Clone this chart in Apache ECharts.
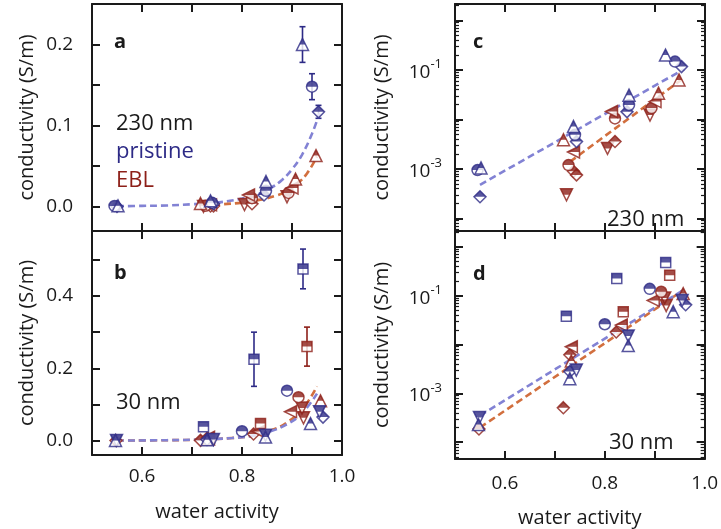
<!DOCTYPE html>
<html><head><meta charset="utf-8">
<script src="https://cdn.jsdelivr.net/npm/echarts@6/dist/echarts.min.js"></script>
<style>html,body{margin:0;padding:0;background:#fff}#c{width:721px;height:529px}</style>
</head><body><div id="c"></div>
<script>
// ---------------- tick labels ----------------
const xTickLabels = ['0.6', '0.8', '1.0'];
const yTickLabelsA = ['0.0', '0.1', '0.2'];
const yTickLabelsB = ['0.0', '0.2', '0.4'];
const logTickExps = [-1, -3];

// ---------------- 230 nm (panels a, c) ----------------
const t230PristineTri  = [[0.921, 0.200], [0.848, 0.031], [0.737, 0.0072], [0.552, 0.00105]];
const t230PristineCirc = [[0.940, 0.148], [0.848, 0.0196], [0.740, 0.0049], [0.545, 0.00095]];
const t230PristineDiam = [[0.953, 0.117], [0.844, 0.0144], [0.743, 0.0036], [0.550, 0.000275]];
const t230PristineErr  = [[0.921, 0.200, 0.022], [0.940, 0.148, 0.016], [0.953, 0.117, 0.008]];
const t230EblTri  = [[0.948, 0.063], [0.907, 0.034], [0.717, 0.0039]];
const t230EblLeft = [[0.900, 0.023], [0.813, 0.0145], [0.737, 0.0022]];
const t230EblCirc = [[0.893, 0.017], [0.820, 0.0105], [0.727, 0.0012]];
const t230EblDiam = [[0.820, 0.0036], [0.737, 0.0009], [0.743, 0.00076]];
const t230EblDown = [[0.890, 0.0123], [0.805, 0.0026], [0.723, 0.0003]];
const fit230PristineLin = [[0.55, 0.0005], [0.60, 0.001], [0.65, 0.0015], [0.70, 0.003], [0.75, 0.005], [0.80, 0.010], [0.83, 0.015], [0.86, 0.024], [0.88, 0.033], [0.90, 0.046], [0.92, 0.064], [0.94, 0.090], [0.955, 0.115]];
const fit230EblLin = [[0.72, 0.0015], [0.76, 0.003], [0.80, 0.005], [0.84, 0.009], [0.87, 0.014], [0.89, 0.019], [0.91, 0.028], [0.93, 0.041], [0.95, 0.062]];
const fit230PristineLog = [[0.55, 0.00048], [0.958, 0.104]];
const fit230EblLog = [[0.73, 0.0014], [0.955, 0.066]];

// ---------------- 30 nm (panels b, d) ----------------
const t30PristineSq   = [[0.922, 0.475], [0.824, 0.225], [0.723, 0.038]];
const t30PristineCirc = [[0.890, 0.138], [0.800, 0.026]];
const t30PristineTri  = [[0.937, 0.047], [0.847, 0.0095], [0.730, 0.0020], [0.547, 0.00023]];
const t30PristineDown = [[0.955, 0.080], [0.847, 0.015], [0.743, 0.0030], [0.549, 0.00032]];
const t30PristineDiam = [[0.962, 0.065], [0.730, 0.0028]];
const t30PristineErr  = [[0.922, 0.475, 0.055], [0.824, 0.225, 0.075]];
const t30EblSq   = [[0.930, 0.260], [0.837, 0.047]];
const t30EblCirc = [[0.913, 0.120]];
const t30EblLeft = [[0.897, 0.080], [0.833, 0.025], [0.733, 0.0090]];
const t30EblTri  = [[0.957, 0.110], [0.733, 0.0046]];
const t30EblDown = [[0.923, 0.063], [0.920, 0.090]];
const t30EblDiam = [[0.823, 0.018], [0.730, 0.0062], [0.717, 0.00051], [0.548, 0.000187]];
const t30EblErr  = [[0.930, 0.260, 0.054]];
const fit30PristineLin = [[0.55, 0.000], [0.65, 0.001], [0.72, 0.003], [0.78, 0.007], [0.82, 0.013], [0.86, 0.027], [0.89, 0.045], [0.92, 0.075], [0.95, 0.130]];
const fit30EblLin = [[0.55, 0.000], [0.65, 0.001], [0.72, 0.0025], [0.78, 0.007], [0.82, 0.013], [0.86, 0.029], [0.89, 0.050], [0.92, 0.085], [0.95, 0.150]];
const fit30PristineLog = [[0.55, 0.00035], [0.96, 0.135]];
const fit30EblLog = [[0.55, 0.00020], [0.955, 0.125]];

// ---------------- styling ----------------
const FONT = 'Open Sans';
const INK = '#1a1a1a';
const C_P = '#2d2a86', C_E = '#8d1f18', C_FP = '#8282d4', C_FE = '#d26f3e';
const SHAPES = {
  tri:  {full: 'M5 0 L10 10 L0 10 Z', half: 'M5 0 L7.5 5 L2.5 5 Z M0 10 L10 10'},
  down: {full: 'M0 0 L10 0 L5 10 Z', half: 'M0 0 L10 0 L7.5 5 L2.5 5 Z M0 10 L10 10'},
  diam: {full: 'M5 0 L10 5 L5 10 L0 5 Z', half: 'M5 0 L10 5 L0 5 Z M0 10 L10 10'},
  sq:   {full: 'M0 0 L10 0 L10 10 L0 10 Z', half: 'M0 0 L10 0 L10 5 L0 5 Z M0 10 L10 10'},
  left: {full: 'M0 5 L10 0 L10 10 Z', half: 'M0 5 L10 0 L10 5 Z M0 10 L10 10'},
  circ: {full: 'M0 5 A5 5 0 1 1 10 5 A5 5 0 1 1 0 5 Z', half: 'M0 5 A5 5 0 0 1 10 5 Z M0 10 L10 10'}
};

function markers(data, shape, color, g) {
  const size = shape === 'sq' ? 10 : (shape === 'circ' ? 11 : 12);
  return [
    {type: 'scatter', xAxisIndex: 2 * g, yAxisIndex: 2 * g, data, symbol: 'path://' + SHAPES[shape].full,
     symbolSize: size, itemStyle: {color: '#fff', borderColor: color, borderWidth: 1.5}, z: 3, silent: true},
    {type: 'scatter', xAxisIndex: 2 * g, yAxisIndex: 2 * g, data, symbol: 'path://' + SHAPES[shape].half,
     symbolSize: size, itemStyle: {color: color}, z: 3, silent: true}
  ];
}
function fitLine(data, color, g, smooth) {
  return {type: 'line', xAxisIndex: 2 * g, yAxisIndex: 2 * g, data, showSymbol: false, smooth: smooth ? 0.4 : false,
    lineStyle: {color, width: 2.6, type: [7, 4]}, z: 2, silent: true};
}
function errBars(data, color, g) {
  return {type: 'custom', xAxisIndex: 2 * g, yAxisIndex: 2 * g, data, encode: {x: 0, y: 1}, z: 2, silent: true,
    renderItem(params, api) {
      const x = api.value(0), y = api.value(1), e = api.value(2);
      const t = api.coord([x, y + e]), b = api.coord([x, y - e]);
      const st = {stroke: color, lineWidth: 1.6};
      return {type: 'group', children: [
        {type: 'line', shape: {x1: t[0], y1: t[1], x2: b[0], y2: b[1]}, style: st},
        {type: 'line', shape: {x1: t[0] - 3, y1: t[1], x2: t[0] + 3, y2: t[1]}, style: st},
        {type: 'line', shape: {x1: b[0] - 3, y1: b[1], x2: b[0] + 3, y2: b[1]}, style: st}
      ]};
    }};
}

function pickLabel(list, v) {
  const hit = list.find(l => Math.abs(parseFloat(l) - v) < 1e-7);
  return hit === undefined ? '' : hit;
}
const lineSt = {show: true, onZero: false, lineStyle: {color: INK, width: 2}};
const tickSt = {show: true, inside: true, length: 8, lineStyle: {color: INK, width: 2}};

function xPair(g, showLabels, margin, gap) {
  const base = {gridIndex: g, type: 'value', min: 0.5, max: 1.0, interval: 0.1,
    axisLine: lineSt, axisTick: tickSt, splitLine: {show: false}};
  return [
    Object.assign({}, base, {position: 'bottom',
      axisLabel: {show: showLabels, formatter: v => pickLabel(xTickLabels, v), fontSize: 19, color: INK, fontFamily: FONT, margin: margin},
      name: showLabels ? 'water activity' : '', nameLocation: 'middle', nameGap: gap,
      nameTextStyle: {fontSize: 20, color: INK, fontFamily: FONT}}),
    Object.assign({}, base, {position: 'top', axisLabel: {show: false}})
  ];
}
function yLinPair(g, min, max, split, labels) {
  const base = {gridIndex: g, type: 'value', min, max, splitNumber: split,
    axisLine: lineSt, axisTick: tickSt, splitLine: {show: false}};
  return [
    Object.assign({}, base, {position: 'left',
      axisLabel: {formatter: v => pickLabel(labels, v), fontSize: 19, color: INK, fontFamily: FONT, margin: 19},
      name: 'conductivity (S/m)', nameLocation: 'middle', nameGap: 55,
      nameTextStyle: {fontSize: 20, color: INK, fontFamily: FONT}}),
    Object.assign({}, base, {position: 'right', axisLabel: {show: false}})
  ];
}
function logLabel(v) {
  const e = Math.log10(v), r = Math.round(e);
  if (Math.abs(e - r) < 1e-6 && logTickExps.indexOf(r) >= 0) return '{b|10}{s|' + r + '}';
  return '';
}
function yLogPair(g, lo, hi) {
  const base = {gridIndex: g, type: 'log', logBase: 10, min: Math.pow(10, lo), max: Math.pow(10, hi),
    axisLine: lineSt, axisTick: tickSt, splitLine: {show: false},
    minorTick: {show: true, splitNumber: 9, length: 4, lineStyle: {color: INK, width: 1.2}}, minorSplitLine: {show: false}};
  return [
    Object.assign({}, base, {position: 'left',
      axisLabel: {formatter: logLabel, margin: 13, color: INK,
        rich: {b: {fontSize: 19, fontFamily: FONT, color: INK, lineHeight: 24, verticalAlign: 'bottom'},
               s: {fontSize: 13, fontFamily: FONT, color: INK, lineHeight: 13, verticalAlign: 'top'}}},
      name: 'conductivity (S/m)', nameLocation: 'middle', nameGap: 63,
      nameTextStyle: {fontSize: 20, color: INK, fontFamily: FONT}}),
    Object.assign({}, base, {position: 'right', axisLabel: {show: false}})
  ];
}

const grids = [
  {left: 92, top: 4, width: 250, height: 227},
  {left: 92, top: 231, width: 250, height: 224},
  {left: 455, top: 4, width: 250, height: 227},
  {left: 455, top: 231, width: 250, height: 231}
];
const xAxes = [].concat(xPair(0, false, 12, 47), xPair(1, true, 12, 47), xPair(2, false, 15, 49), xPair(3, true, 15, 49));
const yAxes = [].concat(
  yLinPair(0, -0.03, 0.25, 5, yTickLabelsA),
  yLinPair(1, -0.04, 0.58, 6, yTickLabelsB),
  yLogPair(2, -4.253, 0.333),
  yLogPair(3, -4.343, 0.323)
);

const series = [];
function panel230(g, log) {
  series.push(log ? fitLine(fit230PristineLog, C_FP, g, false) : fitLine(fit230PristineLin, C_FP, g, true));
  series.push(log ? fitLine(fit230EblLog, C_FE, g, false) : fitLine(fit230EblLin, C_FE, g, true));
  if (!log) series.push(errBars(t230PristineErr, C_P, g));
  series.push(...markers(t230EblDown, 'down', C_E, g), ...markers(t230EblDiam, 'diam', C_E, g),
    ...markers(t230EblCirc, 'circ', C_E, g), ...markers(t230EblLeft, 'left', C_E, g), ...markers(t230EblTri, 'tri', C_E, g));
  series.push(...markers(t230PristineDiam, 'diam', C_P, g), ...markers(t230PristineCirc, 'circ', C_P, g),
    ...markers(t230PristineTri, 'tri', C_P, g));
}
function panel30(g, log) {
  series.push(log ? fitLine(fit30EblLog, C_FE, g, false) : fitLine(fit30EblLin, C_FE, g, true));
  series.push(log ? fitLine(fit30PristineLog, C_FP, g, false) : fitLine(fit30PristineLin, C_FP, g, true));
  if (!log) { series.push(errBars(t30PristineErr, C_P, g)); series.push(errBars(t30EblErr, C_E, g)); }
  series.push(...markers(t30EblDiam, 'diam', C_E, g), ...markers(t30EblDown, 'down', C_E, g),
    ...markers(t30EblTri, 'tri', C_E, g), ...markers(t30EblLeft, 'left', C_E, g),
    ...markers(t30EblCirc, 'circ', C_E, g), ...markers(t30EblSq, 'sq', C_E, g));
  series.push(...markers(t30PristineDiam, 'diam', C_P, g), ...markers(t30PristineDown, 'down', C_P, g),
    ...markers(t30PristineTri, 'tri', C_P, g), ...markers(t30PristineCirc, 'circ', C_P, g),
    ...markers(t30PristineSq, 'sq', C_P, g));
}
panel230(0, false);
panel30(1, false);
panel230(2, true);
panel30(3, true);

function txt(x, y, s, opt) {
  return {type: 'text', left: x, top: y, silent: true, z: 10,
    style: Object.assign({text: s, fontFamily: FONT, fontSize: 22, fill: INK, textVerticalAlign: 'middle'}, opt || {})};
}
const graphics = [
  txt(114, 32, 'a', {fontWeight: 'bold', fontSize: 20}),
  txt(114, 263, 'b', {fontWeight: 'bold', fontSize: 20}),
  txt(473, 32, 'c', {fontWeight: 'bold', fontSize: 20}),
  txt(473, 264, 'd', {fontWeight: 'bold', fontSize: 20}),
  txt(116, 113, '230 nm'),
  txt(116, 141, 'pristine', {fill: C_P}),
  txt(116, 170, 'EBL', {fill: C_E}),
  txt(116, 392, '30 nm'),
  txt(607, 209, '230 nm'),
  txt(609, 432, '30 nm')
];

const chart = echarts.init(document.getElementById('c'), null, {renderer: 'canvas'});
chart.setOption({
  animation: false,
  backgroundColor: '#fff',
  grid: grids,
  xAxis: xAxes,
  yAxis: yAxes,
  series: series,
  graphic: graphics
});
</script></body></html>
